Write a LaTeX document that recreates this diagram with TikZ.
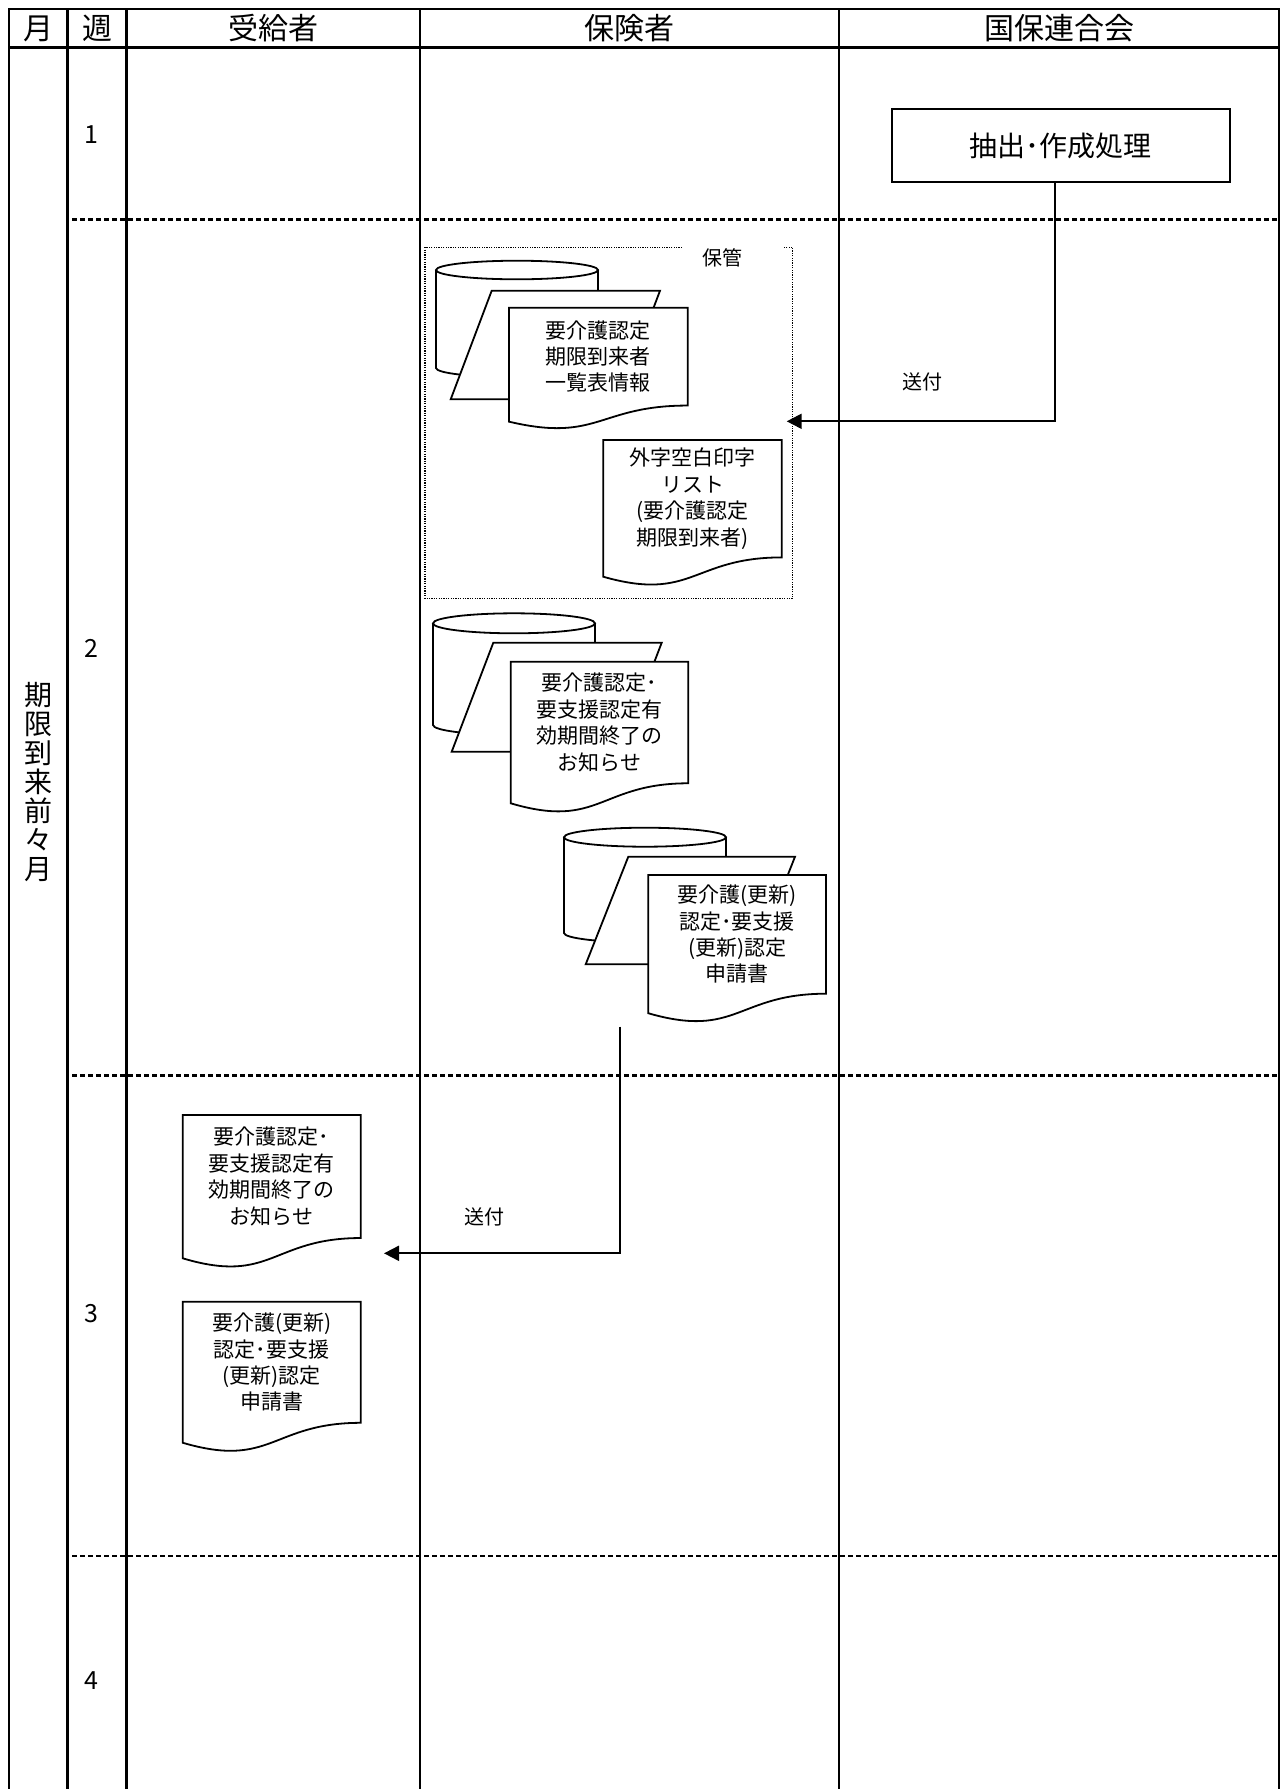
\documentclass[tikz,border=0pt]{standalone}
\usepackage{fontspec}
\setmainfont{Noto Sans CJK JP}
\usetikzlibrary{arrows.meta}
\tikzset{
  frame/.style={line width=1.35pt, line join=miter},
  sepline/.style={line width=1.2pt, dash pattern=on 2.6pt off 1.4pt},
  shapeline/.style={line width=0.9pt, fill=white, line join=miter},
  conn/.style={line width=1pt, -{Triangle[length=7.5pt,width=7.5pt]}},
  hdr/.style={font=\fontsize{15}{18}\selectfont, inner sep=0pt},
  weeknum/.style={font=\fontsize{12.5}{15}\selectfont, inner sep=0pt},
  vtext/.style={align=center, font=\fontsize{14}{14.5}\selectfont, inner sep=0pt},
  doctext/.style={align=center, font=\fontsize{10.5}{13.2}\selectfont, inner sep=0pt},
  lbl/.style={font=\fontsize{10}{12}\selectfont, inner sep=0pt},
  procbox/.style={draw, line width=1pt, minimum width=169.2pt, minimum height=36.5pt, inner sep=0pt, font=\fontsize{14}{16}\selectfont},
  hokanline/.style={line width=0.6pt, dash pattern=on 0.6pt off 0.6pt},
}
% cylinder: #1 cx, #2 top centre y, #3 bottom centre y, #4 rx, #5 ry (pixels)
\newcommand\cylshape[5]{%
  \pgfmathsetmacro\crx{#4*0.5}%
  \pgfmathsetmacro\cry{#5*0.5}%
  \draw[shapeline] (#1-#4,#2) -- (#1-#4,#3) arc[start angle=180,end angle=360,x radius=\crx pt,y radius=\cry pt] -- (#1+#4,#2);
  \draw[shapeline] (#1,#2) ellipse[x radius=\crx pt, y radius=\cry pt];
}
% document: #1 name, #2 left, #3 right, #4 top, #5 height, #6 text
\newcommand\docshape[6]{%
  \pgfmathsetmacro\dR{#4+0.802*#5}%
  \pgfmathsetmacro\dL{#4+0.934*#5}%
  \pgfmathsetmacro\dC{#4+1.1075*#5}%
  \pgfmathsetmacro\dM{(#2+#3)/2}%
  \pgfmathsetmacro\dT{(#4+\dR)/2}%
  \draw[shapeline] (#2,#4) -- (#3,#4) -- (#3,\dR) .. controls (\dM,\dR) and (\dM,\dC) .. (#2,\dL) -- cycle;
  \node[doctext] (#1) at (\dM,\dT) {#6};
}
\begin{document}
\begin{tikzpicture}[x=0.5pt,y=-0.5pt]
\useasboundingbox (0,0) rectangle (1282,1789);
% frame and columns
\draw[frame] (9,1789) -- (9,9) -- (1279,9) -- (1279,1789);
\draw[frame] (9,47.7) -- (1279,47.7);
\foreach \x in {67.7,126.7,420,839} \draw[frame] (\x,9) -- (\x,1789);
% week separators
\foreach \y in {219.5,1075.5,1556} \draw[sepline] (72,\y) -- (1278,\y);
% headers
\node[hdr] (hm) at (38.4,28.5) {月};
\node[hdr] (hw) at (97.2,28.5) {週};
\node[hdr] (hj) at (273.4,28.5) {受給者};
\node[hdr] (hh) at (629.5,28.5) {保険者};
\node[hdr] (hk) at (1059,28.5) {国保連合会};
% month label
\node[vtext] (month) at (38.4,782) {期\\限\\到\\来\\前\\々\\月};
% week numbers
\node[weeknum] (w1) at (91.2,134.6) {1};
\node[weeknum] (w2) at (91.2,648) {2};
\node[weeknum] (w3) at (91.2,1314) {3};
\node[weeknum] (w4) at (91.2,1681) {4};
% process box
\node[procbox] (proc) at (1060.8,145.8) {抽出･作成処理};
% storage box
\draw[hokanline] (682,247.3) -- (425,247.3) -- (425,598.3) -- (792.7,598.3) -- (792.7,247.3) -- (783,247.3);
\node[lbl] (hokan) at (722.5,258.3) {保管};
% group 1
\cylshape{517}{270}{368}{81}{9.3}
\draw[shapeline] (491.7,290.7) -- (660,290.7) -- (619,399.3) -- (450.7,399.3) -- cycle;
\docshape{d1}{509}{687.7}{307.7}{122}{要介護認定\\期限到来者\\一覧表情報}
\docshape{dgai}{603.3}{781.7}{440}{146.4}{外字空白印字\\リスト\\(要介護認定\\期限到来者)}
% group 2
\cylshape{514}{623.3}{725}{81}{10}
\draw[shapeline] (493.3,642.7) -- (661.7,642.7) -- (620,751.7) -- (451.7,751.7) -- cycle;
\docshape{d2}{510.7}{688.3}{661.7}{151.6}{要介護認定･\\要支援認定有\\効期間終了の\\お知らせ}
% group 3
\cylshape{645}{837.2}{933}{81}{9.5}
\draw[shapeline] (628.3,856.7) -- (795,856.7) -- (752.5,964.3) -- (585.7,964.3) -- cycle;
\docshape{d3}{648.3}{826}{875}{148}{要介護(更新)\\認定･要支援\\(更新)認定\\申請書}
% recipient documents
\docshape{d4}{182.7}{360.7}{1115}{153.4}{要介護認定･\\要支援認定有\\効期間終了の\\お知らせ}
\docshape{d5}{182.7}{360.7}{1301.7}{151}{要介護(更新)\\認定･要支援\\(更新)認定\\申請書}
% connectors
\coordinate (tip1) at (786.7,421.3);
\draw[conn] ([xshift=-2.9pt]proc.south) |- (tip1);
\node[lbl] (send1) at (922,381.5) {送付};
\coordinate (s2) at (620,1026.7);
\coordinate (tip2) at (384,1253.3);
\draw[conn] (s2) |- (tip2);
\node[lbl] (send2) at (484,1216.7) {送付};
\end{tikzpicture}
\end{document}
